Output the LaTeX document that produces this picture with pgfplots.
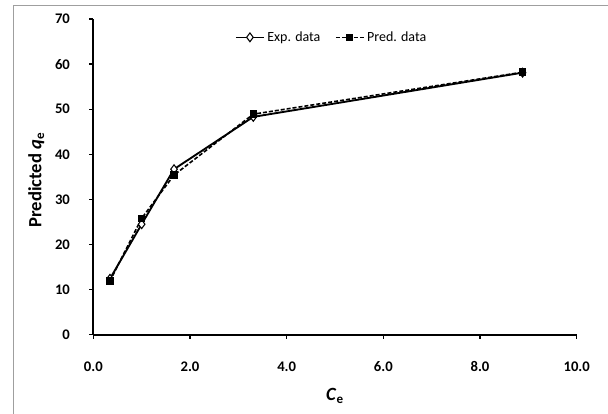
\documentclass[border=0pt]{standalone}
\usepackage{fontspec}
\setmainfont{Carlito}
\usepackage{pgfplots}
\pgfplotsset{compat=1.18}
\begin{document}
\begin{tikzpicture}[x=0.75pt,y=0.75pt]
\useasboundingbox (0,0) rectangle (608,414);
\draw[gray!75, line width=0.9pt] (13.3,0) -- (13.3,408.3) -- (608,408.3);
\begin{axis}[
  at={(69.975pt,59.475pt)}, anchor=south west,
  scale only axis, width=362.55pt, height=236.775pt,
  xmin=0, xmax=10, ymin=0, ymax=70,
  xtick={0,2,4,6,8,10}, ytick={0,10,20,30,40,50,60,70},
  axis x line*=bottom, axis y line*=left,
  axis line style={line width=1.4pt, -},
  tick style={line width=1pt, black},
  tick align=outside, major tick length=3pt,
  /pgf/number format/assume math mode=true,
  xticklabel={\pgfmathprintnumber[fixed,fixed zerofill,precision=1]{\tick}},
  ticklabel style={font=\fontsize{11}{13}\selectfont\bfseries},
  xticklabel style={anchor=center, yshift=-21pt},
  yticklabel style={anchor=east, xshift=-11pt},
  xlabel={\textbf{\textit{C}\textsubscript{e}}},
  ylabel={\textbf{Predicted \textit{q}\textsubscript{e}}},
  label style={font=\fontsize{14}{16}\selectfont},
  xlabel style={at={(axis description cs:0.5,-0.195)}, anchor=center},
  ylabel style={at={(axis description cs:-0.118,0.49)}, anchor=center},
  legend columns=2,
  legend style={draw=none, fill=none, at={(axis description cs:0.494,0.942)}, anchor=center,
    font=\fontsize{10.5}{12}\selectfont, /tikz/every even column/.append style={column sep=9pt}},
  legend image code/.code={\draw[mark repeat=2,mark phase=2,#1,line width=1pt] plot coordinates {(0pt,0pt)(10.5pt,0pt)(21pt,0pt)};},
  clip=false,
]
\addplot[black, line width=1.4pt, mark=diamond*, mark options={fill=white, solid, line width=0.8pt}, mark size=3.3pt]
  coordinates {(0.345,12.4) (1.0,24.5) (1.67,36.7) (3.31,48.3) (8.88,58.1)};
\addlegendentry{Exp. data}
\addplot[black, line width=1.2pt, dash pattern=on 3pt off 1.5pt, mark=square*, mark options={fill=black, solid}, mark size=2.2pt]
  coordinates {(0.345,11.9) (1.0,25.8) (1.67,35.4) (3.31,48.9) (8.88,58.2)};
\addlegendentry{Pred. data}
\end{axis}
\end{tikzpicture}
\end{document}
